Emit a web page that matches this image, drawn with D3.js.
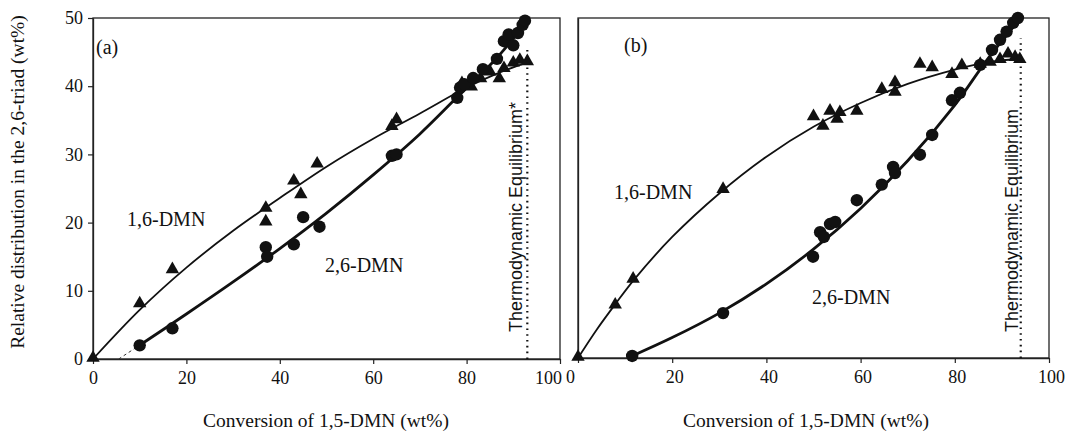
<!DOCTYPE html>
<html>
<head>
<meta charset="utf-8">
<script src="https://cdn.jsdelivr.net/npm/d3@7"></script>
<style>
  html, body { margin: 0; padding: 0; background: #fff; }
  svg { display: block; }
  text { fill: #111; }
</style>
</head>
<body>
<svg id="chart" width="1068" height="440"></svg>
<script>
// ---------------- data ----------------
const xTicks = [0, 20, 40, 60, 80, 100];
const yTicks = [0, 10, 20, 30, 40, 50];

// panel (a)
const triA = [[0,0],[10,8],[17,13],[37,22],[37,20],[43,26],[44.5,24],[48,28.5],[64,34],[65,35],
  [79,40.3],[81,39.8],[83,41],[85,42],[87,41],[88,42.5],[90,43.3],[91.4,43.7],[93,43.5]];
const circA = [[10,2],[17,4.5],[37,16.4],[37.3,15],[43,16.8],[45,20.8],[48.5,19.4],[64,29.8],[65,30],
  [78,38.3],[78.6,39.8],[79.5,40.3],[81.4,41.2],[83.5,42.5],[86.5,44],[88,46.6],[89,47.6],[90,46],
  [91,47.8],[92,49],[92.5,49.6]];
const fitA16 = [[0,0],[10,7.2],[20,13.4],[30,18.8],[40,23.6],[50,28.2],[60,32.3],[70,36],[80,39.8],[87,42],[93,43.5]];
const fitA26 = [[9.5,1.8],[20,6.6],[30,11.3],[40,16.2],[50,21.4],[60,27],[70,33],[78,38.4],[86,43.8],[93,49.5]];
const dashA26 = [[5.5,0],[9.5,1.8]];

// panel (b)
const triB = [[0,0],[7.9,7.7],[11.7,11.5],[30.8,24.7],[50,35.4],[52,34],[53.5,36.2],[55,35],[55.6,36],
  [59.2,36.2],[64.5,39.4],[67.3,40.4],[67.3,39],[72.6,43.1],[75.2,42.6],[79.4,41.6],[81.5,42.9],
  [85.4,43.1],[87.5,43.4],[89.6,43.8],[91.3,44.6],[92.8,44.1],[93.8,43.8]];
const circB = [[11.5,0.3],[30.8,6.6],[49.9,14.9],[51.4,18.5],[52.2,17.8],[53.5,19.7],[54.6,20],
  [59.2,23.2],[64.5,25.5],[66.9,28.1],[67.3,27.2],[72.6,29.9],[75.2,32.8],[79.4,37.9],[81.1,39],
  [85.4,43.1],[87.9,45.3],[89.6,46.8],[91,48],[92.4,49.3],[93.4,50]];
const fitB16 = [[0,0],[4,4.2],[8,8],[12,11.6],[20,17.8],[30,24.2],[40,29.6],[50,34],[60,37.5],
  [70,40.3],[80,42.4],[87,43.5],[94,44]];
const fitB26 = [[11.5,0.3],[20,3.0],[30,6.6],[40,10.9],[50,16.0],[60,22.0],[70,29.0],[80,37.2],
  [87,44.0],[94,50]];

// thermodynamic equilibrium (conversion, top of dotted line)
const eqX = [93, 94];
const eqTop = [45.6, 47];

const xTitle = "Conversion of 1,5-DMN (wt%)";
const yTitle = "Relative distribution in the 2,6-triad (wt%)";

// ---------------- drawing ----------------
const svg = d3.select("#chart");
const SERIF = "'Liberation Serif','Times New Roman',serif";
const SANS = "'Liberation Sans',Arial,sans-serif";

const panels = [
  { key: "a", label: "(a)", x0: 93, x1: 560, y0: 18, y1: 359, tri: triA, circ: circA,
    f16: fitA16, f26: fitA26, dash: dashA26, eq: 0, yLabels: true,
    eqText: "Thermodynamic Equilibrium*", eqTextX: 522, eqTextY: 332,
    lab16: [127, 226], lab26: [325, 272], labPos: [96, 54] },
  { key: "b", label: "(b)", x0: 578, x1: 1049, y0: 18, y1: 358, tri: triB, circ: circB,
    f16: fitB16, f26: fitB26, dash: null, eq: 1, yLabels: false,
    eqText: "Thermodynamic Equilibrium", eqTextX: 1018, eqTextY: 332,
    lab16: [614, 199], lab26: [812, 304], labPos: [624, 52] }
];

panels.forEach(p => {
  const x = d3.scaleLinear().domain([0, 100]).range([p.x0, p.x1]);
  const y = d3.scaleLinear().domain([0, 50]).range([p.y1, p.y0]);
  const g = svg.append("g");

  // frame
  g.append("rect").attr("x", p.x0).attr("y", p.y0)
    .attr("width", p.x1 - p.x0).attr("height", p.y1 - p.y0)
    .attr("fill", "none").attr("stroke", "#222").attr("stroke-width", 1.3);

  // x axis
  const xa = g.append("g").attr("transform", `translate(0,${p.y1})`)
    .call(d3.axisBottom(x).tickValues(xTicks).tickSize(5).tickSizeOuter(0).tickPadding(7));
  xa.select(".domain").attr("stroke", "#222").attr("stroke-width", 1.3);
  xa.selectAll(".tick line").attr("stroke", "#222").attr("stroke-width", 1.2);
  xa.selectAll(".tick text").attr("font-family", SERIF).attr("font-size", 18).attr("fill", "#111")
    .attr("dx", d => (p.key === "a" && d === 100) ? -12 : (p.key === "b" && d === 0) ? -8 : (p.key === "b" ? 2 : 0));

  // y axis
  const ya = g.append("g").attr("transform", `translate(${p.x0},0)`)
    .call(d3.axisLeft(y).tickValues(yTicks).tickSize(p.yLabels ? 5 : 0).tickSizeOuter(0).tickPadding(5));
  ya.select(".domain").attr("stroke", "#222").attr("stroke-width", 1.3);
  ya.selectAll(".tick line").attr("stroke", "#222").attr("stroke-width", 1.2);
  if (p.yLabels) {
    ya.selectAll(".tick text").attr("font-family", SERIF).attr("font-size", 18).attr("fill", "#111");
  } else {
    ya.selectAll(".tick text").remove();
  }

  // dotted equilibrium line
  g.append("line")
    .attr("x1", x(eqX[p.eq])).attr("x2", x(eqX[p.eq]))
    .attr("y1", y(0)).attr("y2", y(eqTop[p.eq]))
    .attr("stroke", "#111").attr("stroke-width", 2.2)
    .attr("stroke-dasharray", "1.6,4.2");

  g.append("text")
    .attr("transform", `translate(${p.eqTextX},${p.eqTextY}) rotate(-90)`)
    .attr("font-family", SANS).attr("font-size", 18).attr("text-anchor", "start")
    .text(p.eqText);

  // curves
  const line = d3.line().x(d => x(d[0])).y(d => y(d[1])).curve(d3.curveCatmullRom.alpha(0.5));
  g.append("path").datum(p.f16).attr("d", line)
    .attr("fill", "none").attr("stroke", "#111").attr("stroke-width", 1.8);
  g.append("path").datum(p.f26).attr("d", line)
    .attr("fill", "none").attr("stroke", "#111").attr("stroke-width", 2.8);
  if (p.dash) {
    g.append("path").datum(p.dash).attr("d", d3.line().x(d => x(d[0])).y(d => y(d[1])))
      .attr("fill", "none").attr("stroke", "#333").attr("stroke-width", 1)
      .attr("stroke-dasharray", "3,3");
  }

  // markers
  g.selectAll("path.tri").data(p.tri).join("path").attr("class", "tri")
    .attr("d", d3.symbol(d3.symbolTriangle, 78))
    .attr("transform", d => `translate(${x(d[0])},${y(d[1]) - 1})`)
    .attr("fill", "#111");
  g.selectAll("circle.c").data(p.circ).join("circle").attr("class", "c")
    .attr("cx", d => x(d[0])).attr("cy", d => y(d[1])).attr("r", 6.2)
    .attr("fill", "#111");

  // annotations
  g.append("text").attr("x", p.labPos[0]).attr("y", p.labPos[1])
    .attr("font-family", SERIF).attr("font-size", 20).text(p.label);
  g.append("text").attr("x", p.lab16[0]).attr("y", p.lab16[1])
    .attr("font-family", SERIF).attr("font-size", 20).text("1,6-DMN");
  g.append("text").attr("x", p.lab26[0]).attr("y", p.lab26[1])
    .attr("font-family", SERIF).attr("font-size", 20).text("2,6-DMN");

  // x title
  g.append("text").attr("x", (p.key === "a") ? 326 : 806).attr("y", 427)
    .attr("text-anchor", "middle").attr("font-family", SERIF).attr("font-size", 19.5)
    .text(xTitle);
});

// y title
svg.append("text")
  .attr("transform", "translate(24,182) rotate(-90)")
  .attr("text-anchor", "middle").attr("font-family", SERIF).attr("font-size", 19.5)
  .text(yTitle);
</script>
</body>
</html>
